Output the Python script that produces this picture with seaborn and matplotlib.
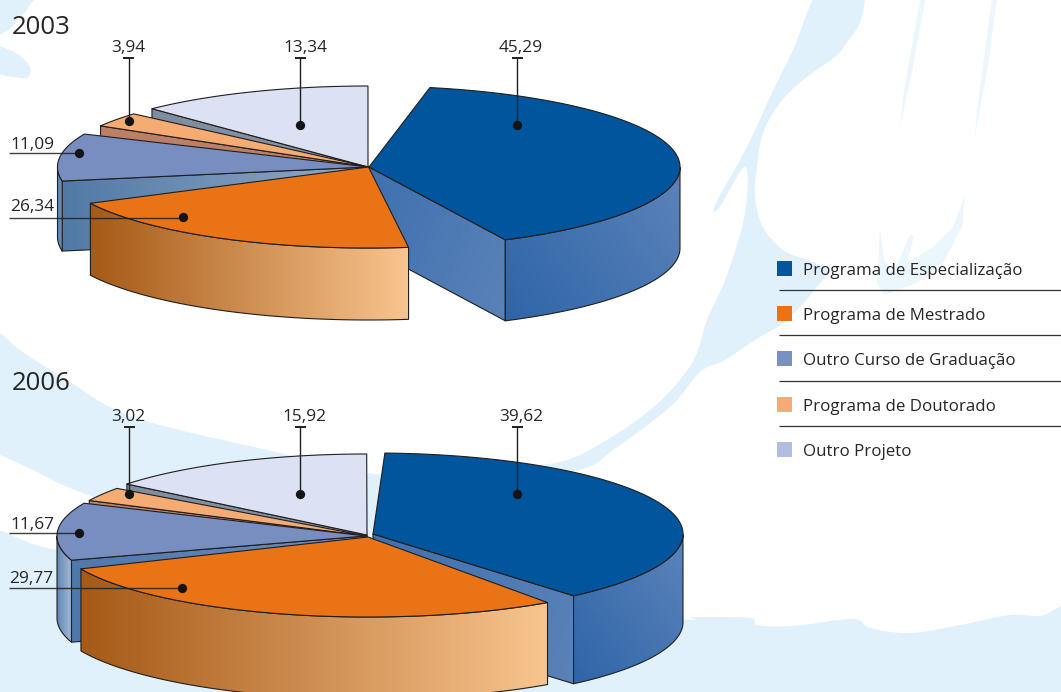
import numpy as np
import matplotlib
matplotlib.use("Agg")
import matplotlib.pyplot as plt
import seaborn as sns
from matplotlib.patches import Polygon, Rectangle

# ---- values (percent) ----
categories = ["Programa de Especialização", "Programa de Mestrado",
              "Outro Curso de Graduação", "Programa de Doutorado", "Outro Projeto"]
values_2003 = [45.29, 26.34, 11.09, 3.94, 13.34]
values_2006 = [39.62, 29.77, 11.67, 3.02, 15.92]
years = ["2003", "2006"]

# ---- colours ----
legend_colors = ["#00569E", "#EA7315", "#7A8FC2", "#F6AB74", "#B1BEDF"]
top_colors = ["#00559C", "#EA7315", "#788DC0", "#F6AB72", "#DCE2F4"]
INK = "#1F1F1F"
PALE = "#E0F1FC"
PALER = "#ECF7FD"

sns.set_theme(style="white")
plt.rcParams["font.family"] = ["DejaVu Sans"]
FONT = "Open Sans"

fig = plt.figure(figsize=(10.61, 6.92), dpi=100)
ax = fig.add_axes([0, 0, 1, 1])
ax.set_xlim(0, 1061)
ax.set_ylim(692, 0)
ax.axis("off")


def smooth(pts, n=14):
    """Closed Catmull-Rom curve through the given outline points."""
    p = np.asarray(pts, float)
    out = []
    m = len(p)
    for i in range(m):
        p0, p1, p2, p3 = p[i - 1], p[i], p[(i + 1) % m], p[(i + 2) % m]
        for t in np.linspace(0, 1, n, endpoint=False):
            out.append(0.5 * (2 * p1 + (p2 - p0) * t + (2 * p0 - 5 * p1 + 4 * p2 - p3) * t ** 2
                              + (3 * p1 - p0 - 3 * p2 + p3) * t ** 3))
    return np.array(out)


# ---- watermark behind the charts ----
swoosh_outlines = [
    [(-10, -10), (32, -5), (30, 5), (18, 20), (5, 32), (-10, 34)],
    [(-10, 46), (14, 52), (28, 64), (30, 74), (22, 78), (-10, 70)],
    [(-30, 315), (0, 333), (20, 350), (67, 380), (133, 417), (267, 450), (367, 473), (430, 482),
     (430, 560), (200, 530), (83, 493), (33, 470), (0, 455), (-30, 445)],
    [(-10, 542), (57, 550), (300, 590), (660, 618), (693, 617), (750, 618), (757, 625),
     (793, 626), (853, 619), (870, 628), (910, 633), (960, 625), (1010, 615), (1040, 616), (1075, 610),
     (1075, 705), (-10, 705)],
    [(820, -10), (861, -10), (861, 20), (847, 42), (836, 56), (803, 80), (780, 103), (763, 133),
     (757, 167), (755, 197), (763, 227), (783, 250), (807, 260), (827, 270), (817, 287), (787, 320),
     (755, 340), (725, 360), (700, 372), (670, 407), (613, 450), (580, 470), (480, 490), (480, 470),
     (560, 462), (610, 438), (656, 405), (686, 372), (698, 350), (707, 320), (727, 275), (745, 213),
     (745, 167), (719, 208), (716, 203), (747, 147), (770, 97), (793, 50)],
]
for outline in swoosh_outlines:
    ax.add_patch(Polygon(smooth(outline), closed=True, fc=PALE, ec="none", zorder=0))

feather_outlines = [
    [(922, -10), (927, -10), (913, 67), (900, 127), (903, 98), (911, 50)],
    [(993, -10), (998, -10), (988, 67), (975, 135), (977, 110), (985, 50)],
    [(965, 195), (962, 227), (943, 263), (917, 283), (884, 295), (877, 283), (880, 228), (884, 260),
     (893, 273), (910, 235), (914, 236), (907, 263), (933, 247), (953, 227)],
]
for outline in feather_outlines:
    ax.add_patch(Polygon(outline, closed=True, fc=PALER, ec="none", zorder=0))


# ---- slice layout per year: where each slice begins and how many degrees a point sweeps ----
layouts = {
    "2003": dict(values=values_2003,
                 start=[78.7, -82.6, -170.0, -210.5, -226.0],
                 sweep=[3.151, 2.688, 3.066, 2.665, 3.298],
                 apex=[(369, 167), (368.5, 167), (368.5, 167), (368.5, 167), (368, 167)],
                 rx=[311, 311, 311, 311, 311], ry=[81, 81, 81, 81, 81],
                 depth=[81, 72, 70, 70, 70]),
    "2006": dict(values=values_2006,
                 start=[87.8, -55.0, -162.4, -206.0, -219.0],
                 sweep=[3.47, 3.41, 3.58, 3.31, 3.2],
                 apex=[(373, 534), (368, 537), (366, 536), (367, 536), (367, 535)],
                 rx=[310, 313, 309, 309, 309], ry=[81, 80, 80, 81, 81],
                 depth=[88, 82, 82, 82, 82]),
}

# wall shading: (left colour, right colour, gradient direction in degrees on screen)
radial_shade = {
    "2003": [("#3F70B0", "#5A82B8", 20), None, ("#517AA6", "#93A9C6", 0),
             ("#BB8067", "#BB8067", 0), ("#7F8DA0", "#8794A6", 0)],
    "2006": [("#3F70B0", "#5A82B8", 20), None, ("#4F78AD", "#6D8FBB", 0),
             ("#BB8067", "#BB8067", 0), ("#7F8DA0", "#8794A6", 0)],
}
outer_shade = {
    "2003": [("#2E65A8", "#5C83BA", -35), ("#A65A17", "#F8C48E", 0),
             ("#5F86B4", "#6F93BF", 0), None, None],
    "2006": [("#2E65A8", "#5C83BA", -35), ("#A65A17", "#F8C48E", 0),
             ("#5F86B4", "#A7BAD4", 0), None, None],
}

EDGE_LW = 0.8
order = [4, 3, 2, 0, 1]  # painted back to front


def shaded(verts, shade, z):
    """Fill a polygon with a linear gradient, and outline it."""
    verts = np.asarray(verts)
    c0, c1, direction = shade
    x0, y0 = verts.min(axis=0)
    x1, y1 = verts.max(axis=0)
    xx, yy = np.meshgrid(np.linspace(0, 1, 160), np.linspace(0, 1, 160))
    a = np.deg2rad(direction)
    ramp = xx * np.cos(a) * (x1 - x0) + yy * np.sin(a) * (y1 - y0)
    ramp = (ramp - ramp.min()) / max(np.ptp(ramp), 1e-9)
    cmap = sns.blend_palette([c0, c1], as_cmap=True)
    ax.add_patch(Polygon(verts, closed=True, fc="none", ec=INK, lw=EDGE_LW, zorder=z + 0.1, joinstyle="round"))
    im = ax.imshow(ramp, cmap=cmap, extent=(x0, x1, y1, y0), aspect="auto", zorder=z,
                   interpolation="bilinear")
    im.set_clip_path(Polygon(verts, closed=True, transform=ax.transData))


def draw_year(year):
    L = layouts[year]
    z = 1.0
    for i in order:
        cx, cy = L["apex"][i]
        rx, ry = L["rx"][i], L["ry"][i]
        d = L["depth"][i]
        a0 = L["start"][i]
        a1 = a0 - L["values"][i] * L["sweep"][i]
        ang = np.deg2rad(np.linspace(a0, a1, 160))
        arc = np.c_[cx + rx * np.cos(ang), cy - ry * np.sin(ang)]
        down = np.array([0, d])
        apex = np.array([cx, cy], float)

        # radial walls that face the viewer
        shade = radial_shade[year][i]
        if shade is not None:
            if np.cos(np.deg2rad(a0)) < 0:
                shaded([apex, arc[0], arc[0] + down, apex + down], shade, z)
                z += 1
            if np.cos(np.deg2rad(a1)) > 0:
                shaded([apex, arc[-1], arc[-1] + down, apex + down], shade, z)
                z += 1

        # outer rim, only where the ellipse runs along the near side
        front = np.sin(ang) < 0
        if front.any() and outer_shade[year][i] is not None:
            rim = arc[front]
            shaded(np.vstack([rim, (rim + down)[::-1]]), outer_shade[year][i], z)
            z += 1

        # top face
        ax.add_patch(Polygon(np.vstack([apex, arc]), closed=True, fc=top_colors[i], ec=INK,
                             lw=EDGE_LW, zorder=z, joinstyle="round"))
        z += 1


draw_year("2003")
draw_year("2006")


# ---- value callouts ----
def fmt(v):
    return f"{v:.2f}".replace(".", ",")


# (slice index, dot x, dot y, text centre x, text y, rule y, side label?)
callouts = {
    "2003": [(0, 517, 125, 521, 48, 58, False), (4, 300, 125, 305, 48, 58, False),
             (3, 128.5, 121, 128, 48, 58, False), (2, 79, 153, 32, 145, 153, True),
             (1, 183, 217, 32, 207, 217.5, True)],
    "2006": [(0, 517, 494, 521, 417, 427, False), (4, 300, 494, 304, 417, 427, False),
             (3, 129, 494, 128, 417, 427, False), (2, 79, 533, 32, 525, 533, True),
             (1, 182, 588, 31, 579, 588, True)],
}
Z_TOP = 60
for year in years:
    vals = layouts[year]["values"]
    for i, dx, dy, tx, ty, ry, side in callouts[year]:
        if side:
            ax.plot([9, dx], [ry, ry], color=INK, lw=1.0, zorder=Z_TOP, alpha=0.85, solid_capstyle="butt")
        else:
            ax.plot([dx, dx], [ry, dy], color=INK, lw=1.0, zorder=Z_TOP, solid_capstyle="butt")
            ax.plot([dx - 5.5, dx + 5.5], [ry, ry], color=INK, lw=1.4, zorder=Z_TOP, solid_capstyle="butt")
        ax.plot([dx], [dy], "o", ms=6.7, color="#141414", mec="none", zorder=Z_TOP + 1)
        ax.text(tx, ty, fmt(vals[i]), ha="center", va="center", fontsize=12.4, color="#262626",
                family=FONT, zorder=Z_TOP + 1)

# ---- year headings ----
ax.text(12, 28, "2003", ha="left", va="center", fontsize=18.5, color="#262626", family=FONT, zorder=Z_TOP)
ax.text(12, 383, "2006", ha="left", va="center", fontsize=18.5, color="#262626", family=FONT, zorder=Z_TOP)

# ---- legend with rules between the entries ----
legend_top = [261, 306, 351, 397, 442]
for name, col, top in zip(categories, legend_colors, legend_top):
    ax.add_patch(Rectangle((777, top), 15, 15, fc=col, ec="none", zorder=Z_TOP))
    ax.text(803, top + 10, name, ha="left", va="center", fontsize=12.2, color="#262626",
            family=FONT, zorder=Z_TOP)
for y in [290, 335, 381, 426]:
    ax.plot([779, 1061], [y, y], color="#333333", lw=0.9, zorder=Z_TOP, solid_capstyle="butt")

ax.set_xlim(0, 1061)
ax.set_ylim(692, 0)
fig.savefig("out.png", dpi=100, facecolor="white")
